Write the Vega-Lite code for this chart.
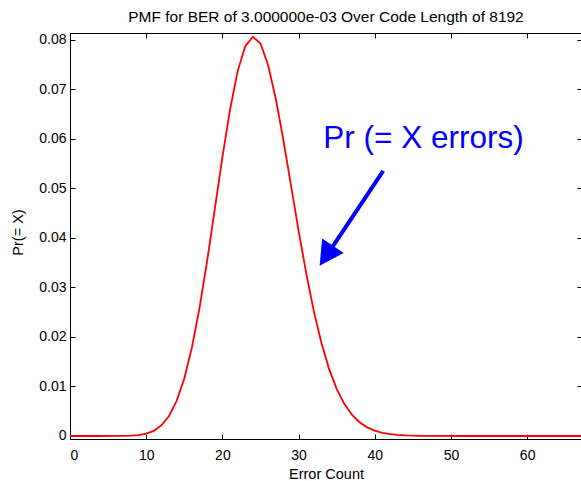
{
  "$schema": "https://vega.github.io/schema/vega-lite/v6.json",
  "width": 512,
  "height": 406,
  "autosize": {"type": "none"},
  "padding": {"left": 70, "top": 33, "right": 0, "bottom": 42},
  "background": "white",
  "title": {
    "text": "PMF for BER of 3.000000e-03 Over Code Length of 8192",
    "font": "Liberation Sans", "fontSize": 15.5, "fontWeight": "normal", "color": "black",
    "anchor": "middle", "frame": "group", "baseline": "alphabetic", "offset": -5
  },
  "config": {
    "view": {"stroke": "black", "strokeWidth": 1},
    "axis": {
      "grid": false, "domainColor": "black", "tickColor": "black", "labelColor": "black", "titleColor": "black",
      "labelFont": "Liberation Sans", "titleFont": "Liberation Sans", "labelFontSize": 14, "titleFontSize": 14.5,
      "titleFontWeight": "normal", "tickSize": -5, "domainWidth": 1, "tickWidth": 1
    }
  },
  "datasets": {
    "pmf": [
      {"k": 0, "p": 2.045e-11}, {"k": 1, "p": 5.042e-10}, {"k": 2, "p": 6.212e-9}, {"k": 3, "p": 5.104e-8},
      {"k": 4, "p": 3.144e-7}, {"k": 5, "p": 1.549e-6}, {"k": 6, "p": 6.362e-6}, {"k": 7, "p": 2.238e-5},
      {"k": 8, "p": 6.892e-5}, {"k": 9, "p": 0.00018854}, {"k": 10, "p": 0.0004638}, {"k": 11, "p": 0.0010381},
      {"k": 12, "p": 0.0021295}, {"k": 13, "p": 0.004032}, {"k": 14, "p": 0.007088}, {"k": 15, "p": 0.011629},
      {"k": 16, "p": 0.017881}, {"k": 17, "p": 0.025875}, {"k": 18, "p": 0.035364}, {"k": 19, "p": 0.045778},
      {"k": 20, "p": 0.056294}, {"k": 21, "p": 0.065913}, {"k": 22, "p": 0.073661}, {"k": 23, "p": 0.078733},
      {"k": 24, "p": 0.080643}, {"k": 25, "p": 0.079281}, {"k": 26, "p": 0.074931}, {"k": 27, "p": 0.068191},
      {"k": 28, "p": 0.059837}, {"k": 29, "p": 0.050688}, {"k": 30, "p": 0.041502}, {"k": 31, "p": 0.032882},
      {"k": 32, "p": 0.025231}, {"k": 33, "p": 0.018775}, {"k": 34, "p": 0.013556}, {"k": 35, "p": 0.0095076},
      {"k": 36, "p": 0.0064826}, {"k": 37, "p": 0.0042998}, {"k": 38, "p": 0.0027768}, {"k": 39, "p": 0.001747},
      {"k": 40, "p": 0.0010714}, {"k": 41, "p": 0.000641}, {"k": 42, "p": 0.00037436}, {"k": 43, "p": 0.00021349},
      {"k": 44, "p": 0.00011898}, {"k": 45, "p": 6.482e-5}, {"k": 46, "p": 3.455e-5}, {"k": 47, "p": 1.8006e-5},
      {"k": 48, "p": 9.2e-6}, {"k": 49, "p": 4.601e-6}, {"k": 50, "p": 2.2547e-6}, {"k": 51, "p": 1.0831e-6},
      {"k": 52, "p": 5.102e-7}, {"k": 53, "p": 2.358e-7}, {"k": 54, "p": 1.0696e-7}, {"k": 55, "p": 4.762e-8},
      {"k": 56, "p": 2.082e-8}, {"k": 57, "p": 8.943e-9}, {"k": 58, "p": 3.774e-9}, {"k": 59, "p": 1.5658e-9},
      {"k": 60, "p": 6.387e-10}, {"k": 61, "p": 2.5619e-10}, {"k": 62, "p": 1.011e-10}, {"k": 63, "p": 3.926e-11},
      {"k": 64, "p": 1.5005e-11}, {"k": 65, "p": 5.646e-12}, {"k": 66, "p": 2.092e-12}, {"k": 67, "p": 7.635e-13},
      {"k": 68, "p": 2.745e-13}
    ],
    "label": [{"k": 33.25, "p": 0.05824, "text": "Pr (= X errors)"}],
    "shaft": [{"k": 41.11, "p": 0.05354, "k2": 34.4, "p2": 0.0381}],
    "head": [{"k": 32.76, "p": 0.0344}]
  },
  "layer": [
    {
      "data": {"name": "pmf"},
      "mark": {"type": "line", "color": "#ff0000", "strokeWidth": 1.8, "clip": true},
      "encoding": {
        "x": {"field": "k", "type": "quantitative",
              "scale": {"domain": [0, 67.2], "nice": false, "zero": false},
              "axis": {"orient": "bottom", "values": [0, 10, 20, 30, 40, 50, 60], "title": "Error Count",
                       "labelPadding": 14, "titleX": 256, "titleY": 39, "titleBaseline": "alphabetic"}},
        "y": {"field": "p", "type": "quantitative",
              "scale": {"domain": [-0.00061, 0.08141], "nice": false, "zero": false},
              "axis": {"orient": "left", "values": [0, 0.01, 0.02, 0.03, 0.04, 0.05, 0.06, 0.07, 0.08],
                       "format": ".2~f", "title": "Pr(= X)", "labelPadding": 9,
                       "titleX": -52, "titleY": 199, "titleBaseline": "middle", "titleAngle": -90}}
      }
    },
    {
      "data": {"name": "pmf"},
      "mark": {"type": "point", "opacity": 0},
      "encoding": {
        "x": {"field": "k", "type": "quantitative",
              "axis": {"orient": "top", "values": [0, 10, 20, 30, 40, 50, 60], "labels": false, "title": null}},
        "y": {"field": "p", "type": "quantitative",
              "axis": {"orient": "right", "values": [0, 0.01, 0.02, 0.03, 0.04, 0.05, 0.06, 0.07, 0.08], "labels": false, "title": null}}
      }
    },
    {
      "data": {"name": "label"},
      "mark": {"type": "text", "font": "Liberation Sans", "fontSize": 31.5, "color": "#0000ff", "align": "left", "baseline": "alphabetic"},
      "encoding": {
        "x": {"field": "k", "type": "quantitative", "axis": null},
        "y": {"field": "p", "type": "quantitative", "axis": null},
        "text": {"field": "text"}
      }
    },
    {
      "data": {"name": "shaft"},
      "mark": {"type": "rule", "color": "#0000ff", "strokeWidth": 4},
      "encoding": {
        "x": {"field": "k", "type": "quantitative", "axis": null},
        "y": {"field": "p", "type": "quantitative", "axis": null},
        "x2": {"field": "k2"},
        "y2": {"field": "p2"}
      }
    },
    {
      "data": {"name": "head"},
      "mark": {"type": "point", "shape": "M0,0 L-0.54,1 L0.54,1 Z", "filled": true, "color": "#0000ff", "opacity": 1, "size": 2304, "angle": 213.8, "strokeWidth": 0},
      "encoding": {
        "x": {"field": "k", "type": "quantitative", "axis": null},
        "y": {"field": "p", "type": "quantitative", "axis": null}
      }
    }
  ],
  "resolve": {"axis": {"x": "independent", "y": "independent"}}
}
